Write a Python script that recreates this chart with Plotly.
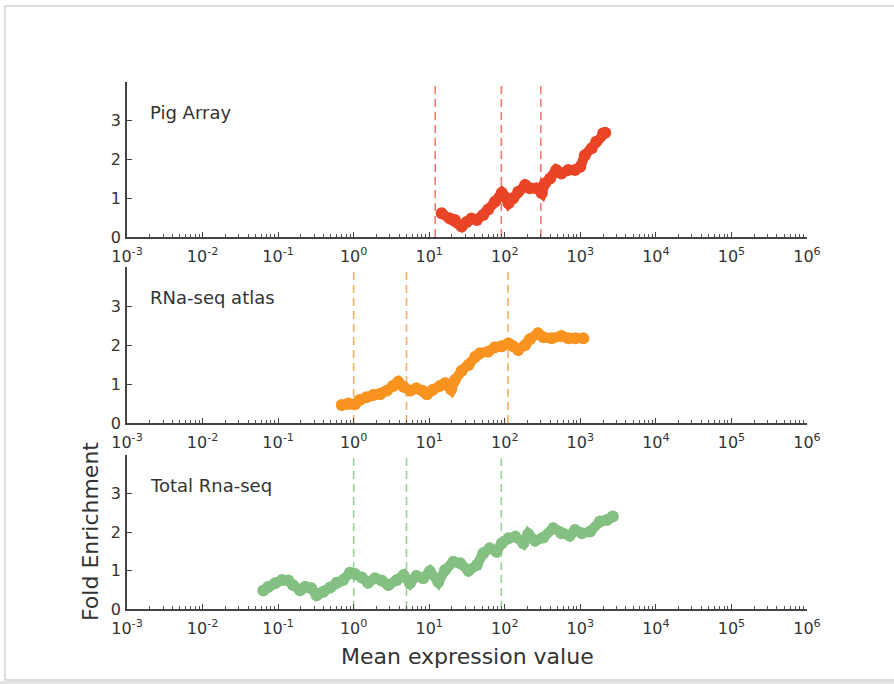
import plotly.graph_objects as go

# ---------------- data ----------------
pig_x = [14.6, 18.8, 21.9, 26.9, 31.3, 36.3, 42.7, 51.9, 60.3, 74.1, 91.2, 100, 112, 129, 151,
         186, 214, 263, 309, 339, 398, 479, 562, 692, 851, 1000, 1148, 1413, 1622, 1995, 2138]
pig_y = [0.61, 0.48, 0.44, 0.27, 0.39, 0.48, 0.44, 0.57, 0.71, 0.91, 1.14, 1.04, 0.87, 1.00, 1.17,
         1.34, 1.26, 1.26, 1.13, 1.38, 1.51, 1.73, 1.64, 1.73, 1.73, 1.81, 2.11, 2.29, 2.46, 2.67, 2.69]
pig_cuts = [12, 90, 300]

atlas_x = [0.695, 0.851, 1.04, 1.20, 1.48, 1.82, 2.24, 2.75, 3.31, 3.89, 4.57, 5.62, 6.76, 8.13,
           9.33, 11.2, 13.8, 16.2, 19.5, 21.9, 26.9, 33.1, 40.7, 46.8, 60.3, 74.1, 91.2, 112, 129,
           151, 186, 214, 275, 324, 417, 562, 692, 851, 1096]
atlas_y = [0.46, 0.50, 0.48, 0.59, 0.66, 0.72, 0.74, 0.83, 0.95, 1.06, 0.93, 0.83, 0.89, 0.83,
           0.74, 0.85, 0.95, 1.02, 0.86, 1.10, 1.34, 1.49, 1.70, 1.79, 1.83, 1.94, 1.97, 2.04, 1.97,
           1.87, 2.00, 2.15, 2.30, 2.20, 2.17, 2.23, 2.17, 2.17, 2.17]
atlas_cuts = [1, 5, 110]

total_x = [0.0637, 0.0741, 0.0912, 0.112, 0.136, 0.158, 0.195, 0.229, 0.275, 0.324, 0.398, 0.490,
           0.596, 0.724, 0.891, 1.04, 1.28, 1.55, 1.91, 2.34, 2.88, 3.72, 4.57, 5.56, 6.76, 8.32,
           10.2, 13.2, 16.2, 20.9, 25.7, 33.1, 42.7, 51.9, 63.1, 77.6, 91.2, 112, 138, 176, 204,
           251, 324, 437, 562, 724, 851, 1047, 1349, 1820, 2239, 2692]
total_y = [0.48, 0.58, 0.67, 0.75, 0.74, 0.62, 0.49, 0.58, 0.54, 0.36, 0.45, 0.56,
           0.68, 0.75, 0.94, 0.91, 0.82, 0.68, 0.80, 0.74, 0.62, 0.75, 0.88, 0.67, 0.86, 0.80,
           0.98, 0.70, 1.01, 1.23, 1.19, 0.99, 1.14, 1.45, 1.58, 1.49, 1.71, 1.84, 1.88, 1.71, 1.95,
           1.77, 1.86, 2.10, 1.97, 1.90, 2.05, 1.97, 2.01, 2.27, 2.31, 2.40]
total_cuts = [1, 5, 90]

panel_names = ["Pig Array", "RNa-seq atlas", "Total Rna-seq"]
x_tick_vals = [1e-3, 1e-2, 1e-1, 1e0, 1e1, 1e2, 1e3, 1e4, 1e5, 1e6]
x_tick_text = ["10<sup>-3</sup>", "10<sup>-2</sup>", "10<sup>-1</sup>", "10<sup>0</sup>",
               "10<sup>1</sup>", "10<sup>2</sup>", "10<sup>3</sup>", "10<sup>4</sup>",
               "10<sup>5</sup>", "10<sup>6</sup>"]
y_tick_vals = [0, 1, 2, 3]
y_range = [0, 4]
x_label = "Mean expression value"
y_label = "Fold Enrichment"

# ---------------- style ----------------
W, H = 894, 684
colors = ["#EA4426", "#F7931E", "#84C081"]
dash_colors = ["rgba(236,90,80,0.8)", "rgba(248,160,70,0.85)", "rgba(130,195,130,0.8)"]
FONT = "DejaVu Sans"
TXT = "#333333"

x_dom = [127 / W, 807 / W]
y_doms = [[1 - 237 / H, 1 - 82 / H], [1 - 423 / H, 1 - 267 / H], [1 - 609 / H, 1 - 455 / H]]

minor_vals = [m * 10 ** e for e in range(-3, 6) for m in range(2, 10)]

series = [(pig_x, pig_y, pig_cuts), (atlas_x, atlas_y, atlas_cuts), (total_x, total_y, total_cuts)]

fig = go.Figure()
for i, (xs, ys, cuts) in enumerate(series):
    sfx = "" if i == 0 else str(i + 1)
    for c in cuts:
        fig.add_trace(go.Scatter(x=[c, c], y=y_range, mode="lines",
                                 line=dict(color=dash_colors[i], width=1.6, dash="8px,5px"),
                                 xaxis="x" + sfx, yaxis="y" + sfx, showlegend=False,
                                 hoverinfo="skip"))
    fig.add_trace(go.Scatter(x=xs, y=ys, mode="lines+markers",
                             line=dict(color=colors[i], width=10),
                             marker=dict(color=colors[i], size=12, line=dict(width=0)),
                             xaxis="x" + sfx, yaxis="y" + sfx, showlegend=False,
                             name=panel_names[i]))

layout = dict(
    width=W, height=H, margin=dict(l=0, r=0, t=0, b=0, autoexpand=False),
    paper_bgcolor="white", plot_bgcolor="white",
    font=dict(family=FONT, color=TXT, size=16),
    showlegend=False,
)
annotations = []
for i in range(3):
    sfx = "" if i == 0 else str(i + 1)
    layout["xaxis" + sfx] = dict(
        type="log", range=[-3, 6], domain=x_dom, anchor="y" + sfx, automargin=False,
        tickmode="array", tickvals=x_tick_vals, ticktext=x_tick_text,
        ticks="inside", ticklen=5, tickwidth=1.2, tickcolor="#444", ticklabelstandoff=4,
        showline=True, linecolor="#444", linewidth=1.6, showgrid=False, zeroline=False,
        tickfont=dict(family=FONT, size=16, color=TXT),
        minor=dict(tickmode="array", tickvals=minor_vals, ticks="inside", ticklen=3,
                   tickwidth=1, tickcolor="#555", showgrid=False),
    )
    layout["yaxis" + sfx] = dict(
        range=y_range, domain=y_doms[i], anchor="x" + sfx, automargin=False,
        tickmode="array", tickvals=y_tick_vals,
        ticks="inside", ticklen=5, tickwidth=1.2, tickcolor="#444", ticklabelstandoff=1,
        showline=True, linecolor="#444", linewidth=1.6, showgrid=False, zeroline=False,
        tickfont=dict(family=FONT, size=16, color=TXT),
    )
    annotations.append(dict(text=panel_names[i], xref="x%s domain" % sfx, yref="y%s domain" % sfx,
                            x=0.031, y=0.805, xanchor="left", yanchor="middle", showarrow=False,
                            font=dict(family=FONT, size=18, color=TXT)))

annotations.append(dict(text=x_label, xref="paper", yref="paper", x=467 / W, y=1 - 656 / H,
                        xanchor="center", yanchor="middle", showarrow=False,
                        font=dict(family=FONT, size=22, color=TXT)))
annotations.append(dict(text=y_label, xref="paper", yref="paper", x=90 / W, y=1 - 532 / H,
                        xanchor="center", yanchor="middle", showarrow=False, textangle=-90,
                        font=dict(family=FONT, size=22, color=TXT)))
layout["annotations"] = annotations

layout["shapes"] = [
    dict(type="rect", xref="paper", yref="paper", x0=5 / W, x1=1.02, y0=1 - 680 / H, y1=1 - 6 / H,
         line=dict(color="#d2d2d2", width=1.5), fillcolor="rgba(0,0,0,0)", layer="below"),
    dict(type="rect", xref="paper", yref="paper", x0=0, x1=1.02, y0=-0.01, y1=1 - 681 / H,
         line=dict(width=0), fillcolor="#e4e4e4", layer="below"),
]

fig.update_layout(**layout)
fig.write_html("out.html", config={"displayModeBar": False},
               post_script="document.body.style.margin='0';document.body.style.overflow='hidden';")
